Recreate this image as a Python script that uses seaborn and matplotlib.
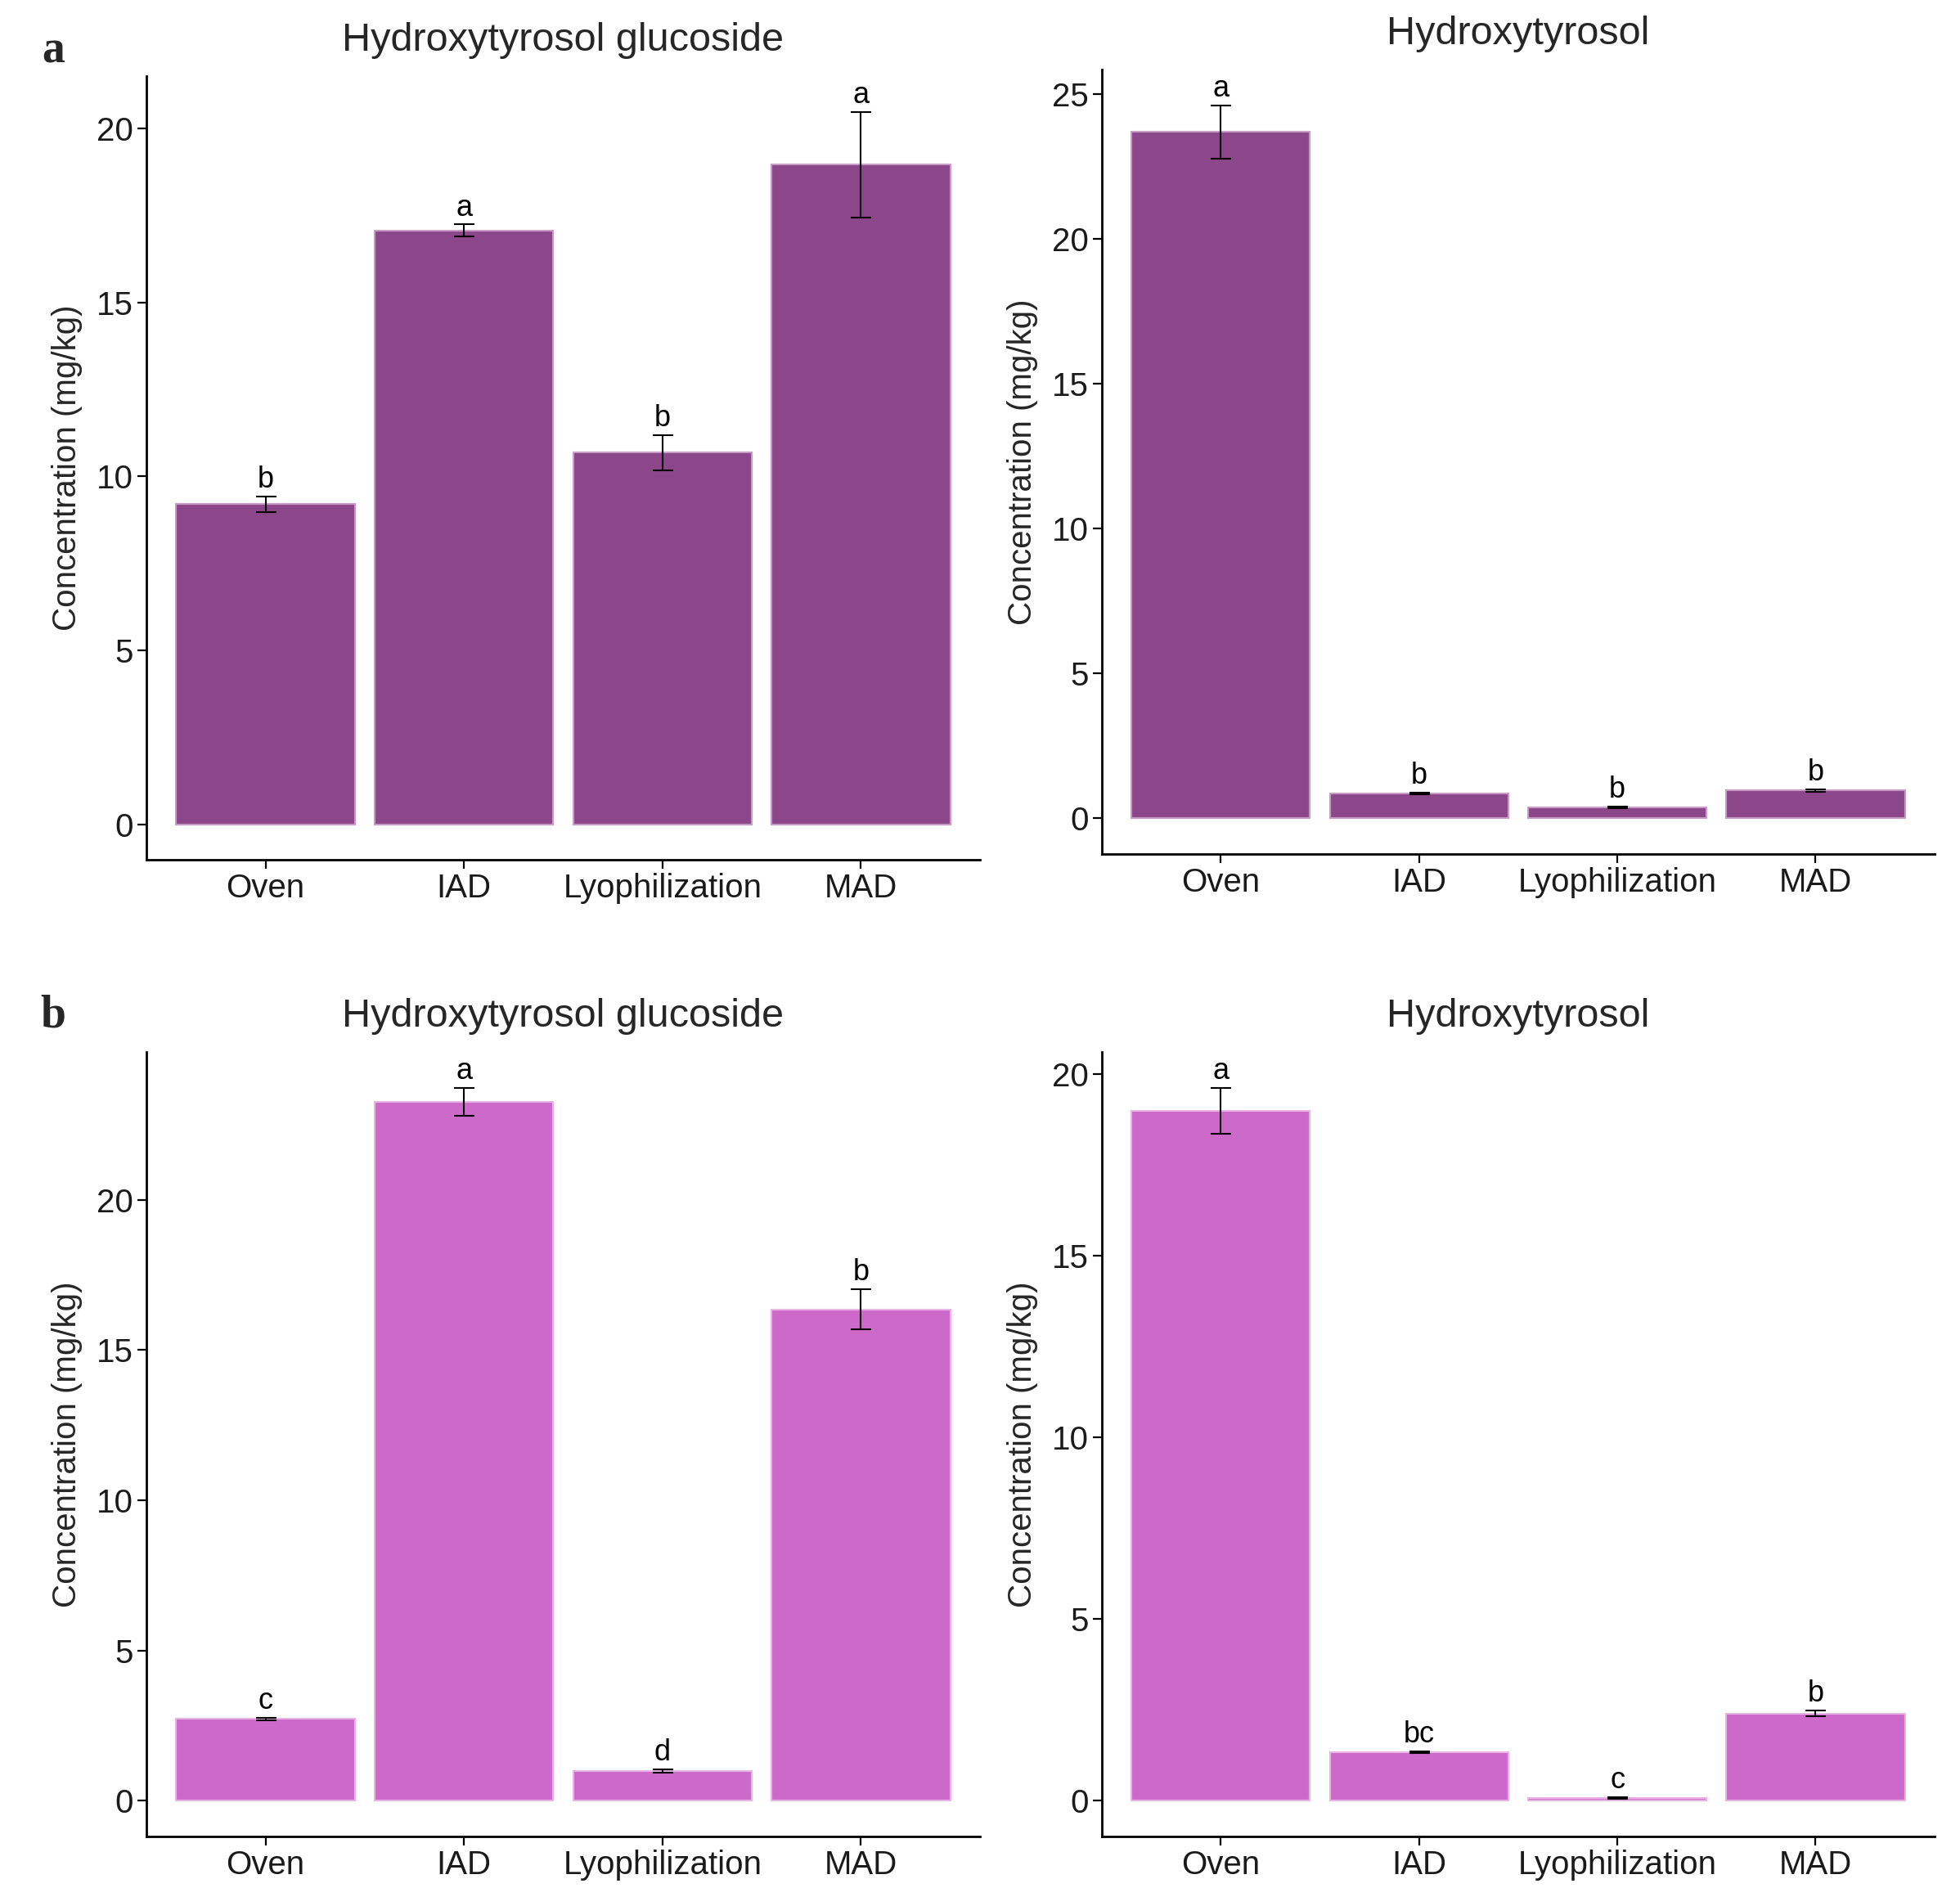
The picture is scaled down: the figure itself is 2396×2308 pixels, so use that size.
import matplotlib
matplotlib.use("Agg")
import matplotlib.pyplot as plt
from matplotlib.ticker import MultipleLocator
import seaborn as sns
import pandas as pd

# Drying methods (x axis)
categories = ["Oven", "IAD", "Lyophilization", "MAD"]

# Panel a
a_gluc_mean = [9.2, 17.07, 10.68, 18.96]
a_gluc_se = [0.22, 0.17, 0.5, 1.52]
a_gluc_letters = ["b", "a", "b", "a"]

a_hyd_mean = [23.69, 0.86, 0.38, 0.96]
a_hyd_se = [0.93, 0.02, 0.03, 0.04]
a_hyd_letters = ["a", "b", "b", "b"]

# Panel b
b_gluc_mean = [2.72, 23.26, 0.99, 16.35]
b_gluc_se = [0.04, 0.47, 0.06, 0.67]
b_gluc_letters = ["c", "a", "d", "b"]

b_hyd_mean = [18.98, 1.34, 0.08, 2.40]
b_hyd_se = [0.64, 0.03, 0.02, 0.08]
b_hyd_letters = ["a", "bc", "c", "b"]

titles = ["Hydroxytyrosol glucoside", "Hydroxytyrosol"]
color_a = "#8B4789"   # orchid4
color_b = "#CD69C9"   # orchid3

sns.set_theme(style="ticks")
plt.rcParams['font.family'] = ['Liberation Sans', 'DejaVu Sans']

fig = plt.figure(figsize=(23.96, 23.08), dpi=100)

# axes rectangles [left, bottom, width, height]
rects = [
    [0.0747, 0.5446, 0.4253, 0.4151],
    [0.5622, 0.5477, 0.4248, 0.4155],
    [0.0747, 0.0273, 0.4253, 0.4155],
    [0.5622, 0.0273, 0.4248, 0.4155],
]

panels = [
    (a_gluc_mean, a_gluc_se, a_gluc_letters, color_a, "#C79BC6", titles[0]),
    (a_hyd_mean, a_hyd_se, a_hyd_letters, color_a, "#C79BC6", titles[1]),
    (b_gluc_mean, b_gluc_se, b_gluc_letters, color_b, "#E8B4E6", titles[0]),
    (b_hyd_mean, b_hyd_se, b_hyd_letters, color_b, "#E8B4E6", titles[1]),
]

for rect, (mean, se, letters, col, edge, title) in zip(rects, panels):
    ax = fig.add_axes(rect)
    df = pd.DataFrame({"method": categories, "conc": mean, "se": se})
    sns.barplot(data=df, x="method", y="conc", order=categories, color=col,
                width=0.9, errorbar=None, saturation=1, edgecolor=edge,
                linewidth=1.5, ax=ax)
    ax.errorbar(range(len(categories)), df["conc"], yerr=df["se"], fmt="none",
                ecolor="black", elinewidth=1.5, capsize=9, capthick=1.5, zorder=3)
    for i, (m, s, lab) in enumerate(zip(mean, se, letters)):
        ax.annotate(lab, (i, m + s), xytext=(0, 2), textcoords="offset points",
                    ha="center", va="bottom", fontsize=26, color="black")

    hi = max(m + s for m, s in zip(mean, se))
    ax.set_ylim(-0.05 * hi, 1.05 * hi)
    ax.set_xlim(-0.6, len(categories) - 0.4)
    ax.yaxis.set_major_locator(MultipleLocator(5))
    ax.set_title(title, fontsize=35, pad=22)
    ax.set_xlabel("")
    ax.set_ylabel("Concentration (mg/kg)", fontsize=29, labelpad=12)
    ax.tick_params(axis="both", labelsize=29, length=8, width=1.6,
                   color="black", labelcolor="#1a1a1a")
    sns.despine(ax=ax)
    for sp in ["left", "bottom"]:
        ax.spines[sp].set_linewidth(2.0)
        ax.spines[sp].set_color("black")

fig.text(0.027, 0.973, "a", fontsize=40, fontweight="bold",
         family="Liberation Serif", ha="center", va="center")
fig.text(0.027, 0.462, "b", fontsize=40, fontweight="bold",
         family="Liberation Serif", ha="center", va="center")

fig.savefig("out.png", dpi=100)
